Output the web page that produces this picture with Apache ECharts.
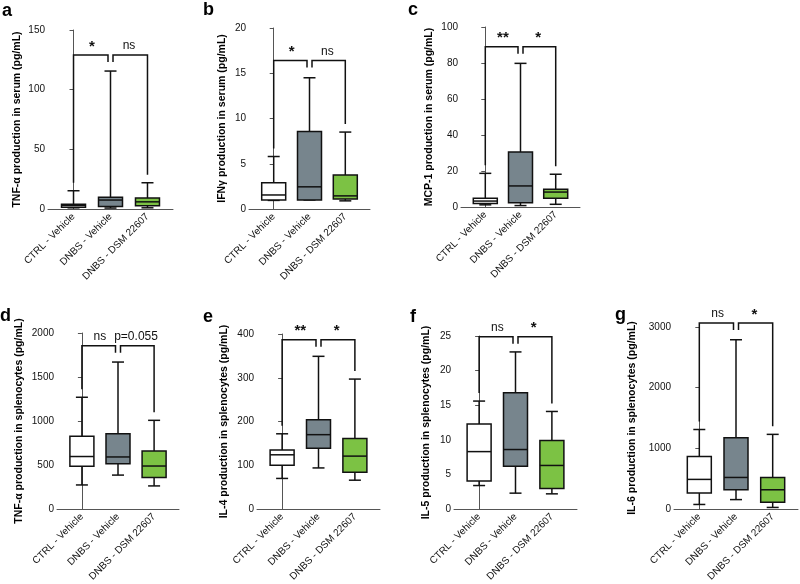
<!DOCTYPE html>
<html><head><meta charset="utf-8">
<script src="https://cdn.jsdelivr.net/npm/echarts@6/dist/echarts.min.js"></script>
<style>html,body{margin:0;padding:0;background:#fff}#c{width:800px;height:584px}</style>
</head><body><div id="c"></div>
<script>
// ---------- DATA ----------
const categories = ['CTRL - Vehicle', 'DNBS - Vehicle', 'DNBS - DSM 22607'];
// each group: [min, q1, median, q3, max]
const tnfSerum   = [[1, 1.5, 3, 4, 15.3], [0.8, 2, 7.5, 9.8, 115.6], [1, 2.8, 6, 9.2, 22]];
const ifnSerum   = [[0.95, 1.0, 1.55, 2.9, 5.8], [1.0, 1.0, 2.45, 8.55, 14.5], [0.9, 1.1, 1.45, 3.75, 8.5]];
const mcpSerum   = [[1.2, 2, 3.3, 4.8, 18.7], [0.8, 2.4, 11.7, 30.5, 79.8], [1.5, 4.8, 8.3, 9.8, 18.2]];
const tnfSpleen  = [[274, 486, 597, 826, 1270], [386, 515, 592, 856, 1670], [263, 359, 489, 659, 1008]];
const il4Spleen  = [[70, 100, 124, 135, 172], [94, 139, 170, 204, 349], [66, 84, 121, 161, 297]];
const il5Spleen  = [[3.4, 4.05, 8.3, 12.3, 15.6], [2.3, 6.2, 8.6, 16.8, 22.7], [2.2, 2.97, 6.3, 9.9, 14.1]];
const il6Spleen  = [[76, 263, 489, 866, 1311], [156, 318, 521, 1177, 2790], [27, 113, 318, 521, 1231]];
const panelLetters = ['a', 'b', 'c', 'd', 'e', 'f', 'g'];
const yTitles = [
  'TNF-α production in serum (pg/mL)',
  'IFNγ production in serum (pg/mL)',
  'MCP-1 production in serum (pg/mL)',
  'TNF-α production in splenocytes (pg/mL)',
  'IL-4 production in splenocytes (pg/mL)',
  'IL-5 production in splenocytes (pg/mL)',
  'IL-6 production in splenocytes (pg/mL)'
];
const yMax      = [150, 20, 100, 2000, 400, 25, 3000];
const yInterval = [50, 5, 20, 500, 100, 5, 1000];
const bracketTop = [129, 16.4, 89, 1855, 387, 24.9, 3065];
const sigLeft  = ['*', '*', '**', 'ns', '**', 'ns', 'ns'];
const sigRight = ['ns', 'ns', '*', 'p=0.055', '*', '*', '*'];
const panelData = [tnfSerum, ifnSerum, mcpSerum, tnfSpleen, il4Spleen, il5Spleen, il6Spleen];

// ---------- LAYOUT ----------
const grids = [
  {left: 48,  top: 30,  width: 125, height: 179},
  {left: 249, top: 28,  width: 121, height: 181},
  {left: 461, top: 27,  width: 119, height: 180},
  {left: 57,  top: 333, width: 122, height: 180},
  {left: 257, top: 334, width: 123, height: 179},
  {left: 454, top: 336, width: 123, height: 177},
  {left: 674, top: 327, width: 124, height: 186}
];
const nameGaps = [25, 21, 26, 32, 27, 22, 36];
const letterPos = [[2, 17], [203, 16], [408, 16], [0, 322], [203, 323], [410, 323], [615, 321]];
const FONT = '"Liberation Sans", Arial, Helvetica, sans-serif';
const boxColors = ['#ffffff', '#77858d', '#7cc244'];
const AX = '#555';

const chart = echarts.init(document.getElementById('c'), null, {renderer: 'canvas'});

function boxRender(params, api) {
  const idx = api.value(0);
  const v = [1, 2, 3, 4, 5].map(i => api.value(i));
  const p = v.map(val => api.coord([idx, val]));
  const cx = p[0][0];
  const bw = 24, cw = 12;
  const ls = {stroke: '#111', lineWidth: 1.5};
  return {
    type: 'group',
    children: [
      {type: 'line', shape: {x1: cx, y1: p[4][1], x2: cx, y2: p[3][1]}, style: ls},
      {type: 'line', shape: {x1: cx, y1: p[1][1], x2: cx, y2: p[0][1]}, style: ls},
      {type: 'line', shape: {x1: cx - cw / 2, y1: p[4][1], x2: cx + cw / 2, y2: p[4][1]}, style: ls},
      {type: 'line', shape: {x1: cx - cw / 2, y1: p[0][1], x2: cx + cw / 2, y2: p[0][1]}, style: ls},
      {type: 'rect', shape: {x: cx - bw / 2, y: p[3][1], width: bw, height: p[1][1] - p[3][1]},
        style: {fill: boxColors[idx], stroke: '#111', lineWidth: 1.5}},
      {type: 'line', shape: {x1: cx - bw / 2, y1: p[2][1], x2: cx + bw / 2, y2: p[2][1]}, style: ls}
    ]
  };
}

function makeBracketRender(k) {
  return function (params, api) {
    const y = api.coord([1, api.value(1)])[1];
    const x0 = api.coord([0, 0])[0], x1 = api.coord([1, 0])[0], x2 = api.coord([2, 0])[0];
    const leg0 = api.coord([0, panelData[k][0][4]])[1] - 8;
    const leg2 = api.coord([2, panelData[k][2][4]])[1] - 8;
    const inner = y + 7, g = 2.5;
    const ls = {stroke: '#111', lineWidth: 1.5, fill: null};
    function txt(s, x) {
      const star = s.indexOf('*') >= 0;
      return {type: 'text', x: x, y: star ? y - 1 : y - 3,
        style: {text: s, textAlign: 'center', textVerticalAlign: 'bottom',
          font: star ? 'bold 15px ' + FONT : '12px ' + FONT, fill: '#111'}};
    }
    return {
      type: 'group',
      children: [
        {type: 'polyline', shape: {points: [[x0, leg0], [x0, y], [x1 - g, y], [x1 - g, inner]]}, style: ls},
        {type: 'polyline', shape: {points: [[x1 + g, inner], [x1 + g, y], [x2, y], [x2, leg2]]}, style: ls},
        txt(sigLeft[k], (x0 + x1) / 2),
        txt(sigRight[k], (x1 + x2) / 2)
      ]
    };
  };
}

const gridOpt = [], xAxes = [], yAxes = [], series = [], graphics = [];
const pad = 0.69;
for (let k = 0; k < 7; k++) {
  gridOpt.push(Object.assign({containLabel: false}, grids[k]));
  xAxes.push({
    gridIndex: k, type: 'value', min: -pad, max: 2 + pad,
    axisLine: {show: true, onZero: false, lineStyle: {color: AX, width: 1}},
    axisTick: {show: false}, splitLine: {show: false},
    axisLabel: {customValues: [0, 1, 2], formatter: v => categories[Math.round(v)],
      rotate: 45, fontSize: 10, margin: 6, color: '#111', fontFamily: FONT}
  });
  yAxes.push({
    gridIndex: k, type: 'value', min: 0, max: yMax[k], interval: yInterval[k],
    axisLine: {show: true, lineStyle: {color: AX, width: 1}},
    axisTick: {show: true, length: 4, lineStyle: {color: AX}},
    splitLine: {show: false},
    axisLabel: {fontSize: 10, color: '#111', margin: 3, fontFamily: FONT, formatter: v => String(v)},
    name: yTitles[k], nameLocation: 'middle', nameGap: nameGaps[k],
    nameTextStyle: {fontWeight: 'bold', fontSize: 10.5, color: '#000', fontFamily: FONT}
  });
  series.push({
    type: 'custom', xAxisIndex: k, yAxisIndex: k, clip: false,
    data: panelData[k].map((d, i) => [i].concat(d)),
    encode: {x: 0, y: [1, 2, 3, 4, 5]},
    renderItem: boxRender, silent: true
  });
  series.push({
    type: 'custom', xAxisIndex: k, yAxisIndex: k, clip: false,
    data: [[1, bracketTop[k]]], encode: {x: 0, y: 1},
    renderItem: makeBracketRender(k), silent: true, z: 3
  });
  graphics.push({type: 'text', left: letterPos[k][0], top: letterPos[k][1] - 15,
    style: {text: panelLetters[k], font: 'bold 18px ' + FONT, fill: '#000'}});
}

chart.setOption({
  backgroundColor: '#fff',
  animation: false,
  grid: gridOpt, xAxis: xAxes, yAxis: yAxes, series: series, graphic: graphics
});
</script>
</body></html>
